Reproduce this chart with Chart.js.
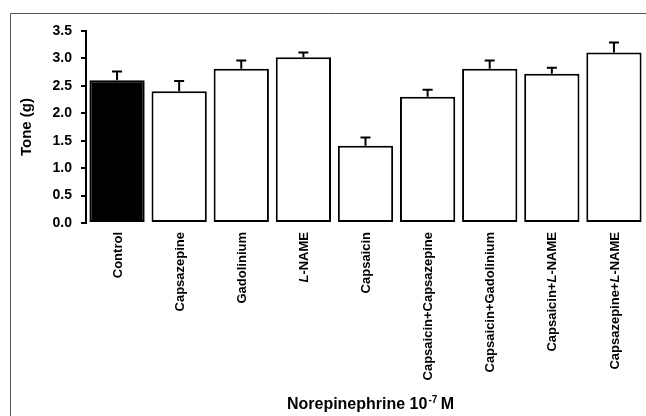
<!DOCTYPE html>
<html>
<head>
<meta charset="utf-8">
<script src="https://cdn.jsdelivr.net/npm/chart.js@4/dist/chart.umd.min.js"></script>
<style>
  html, body { margin: 0; padding: 0; background: #fff; overflow: hidden; }
</style>
</head>
<body>
<canvas id="myChart" width="646" height="416"></canvas>
<script>
var categories = ['Control', 'Capsazepine', 'Gadolinium', 'L-NAME', 'Capsaicin',
  'Capsaicin+Capsazepine', 'Capsaicin+Gadolinium', 'Capsaicin+L-NAME', 'Capsazepine+L-NAME'];
var tone = [2.60, 2.40, 2.81, 3.02, 1.41, 2.30, 2.81, 2.72, 3.11];
var sem = [0.16, 0.19, 0.15, 0.09, 0.15, 0.13, 0.15, 0.11, 0.18];
var yTitle = 'Tone (g)';
var xTitle = ['Norepinephrine 10', '-7', ' M'];

var FONT = '"Liberation Sans", Arial, sans-serif';

// frame line on left and top of the figure
var framePlugin = {
  id: 'frame',
  beforeDraw: function (chart) {
    var c = chart.ctx;
    c.save();
    c.strokeStyle = '#555';
    c.lineWidth = 1;
    c.beginPath();
    c.moveTo(10.5, chart.height);
    c.lineTo(10.5, 13.5);
    c.lineTo(chart.width, 13.5);
    c.stroke();
    c.restore();
  }
};

// error bars (mean + SEM, upper only)
var errorPlugin = {
  id: 'errbars',
  afterDatasetsDraw: function (chart) {
    var c = chart.ctx;
    var y = chart.scales.y;
    var meta = chart.getDatasetMeta(0);
    c.save();
    c.strokeStyle = '#000';
    c.lineWidth = 2;
    meta.data.forEach(function (bar, i) {
      var top = y.getPixelForValue(tone[i] + sem[i]);
      c.beginPath();
      c.moveTo(bar.x, bar.y);
      c.lineTo(bar.x, top);
      c.moveTo(bar.x - 5, top);
      c.lineTo(bar.x + 5, top);
      c.stroke();
    });
    c.restore();
  }
};

// rotated category labels (italic L in L-NAME) and x title with superscript
var labelPlugin = {
  id: 'xlabels',
  afterDraw: function (chart) {
    var c = chart.ctx;
    var x = chart.scales.x;
    c.save();
    c.fillStyle = '#000';
    c.textBaseline = 'middle';
    c.textAlign = 'left';
    categories.forEach(function (lab, i) {
      var parts = lab.split(/(L)(?=-NAME)/).filter(function (s) { return s.length; });
      var segs = parts.map(function (s) {
        var it = (s === 'L');
        c.font = (it ? 'italic ' : '') + 'bold 13px ' + FONT;
        return { t: s, f: c.font, w: c.measureText(s).width };
      });
      var total = segs.reduce(function (a, s) { return a + s.w; }, 0);
      c.save();
      c.translate(x.getPixelForValue(i) + 1, x.top + 9);
      c.rotate(-Math.PI / 2);
      var pos = -total;
      segs.forEach(function (s) {
        c.font = s.f;
        c.fillText(s.t, pos, 0);
        pos += s.w;
      });
      c.restore();
    });

    // x title
    var big = 'bold 16px ' + FONT, small = 'bold 10px ' + FONT;
    c.font = big; var w0 = c.measureText(xTitle[0]).width, w2 = c.measureText(xTitle[2]).width;
    c.font = small; var w1 = c.measureText(xTitle[1]).width;
    var cx = (chart.chartArea.left + chart.chartArea.right) / 2 + 5;
    var sx = cx - (w0 + w1 + w2) / 2;
    var by = 409;
    c.textBaseline = 'alphabetic';
    c.font = big; c.fillText(xTitle[0], sx, by);
    c.font = small; c.fillText(xTitle[1], sx + w0 + 1, by - 6);
    c.font = big; c.fillText(xTitle[2], sx + w0 + w1, by);
    c.restore();
  }
};

var ctx = document.getElementById('myChart').getContext('2d');
var myChart = new Chart(ctx, {
  type: 'bar',
  data: {
    labels: categories,
    datasets: [{
      data: tone,
      backgroundColor: function (c) { return c.dataIndex === 0 ? '#000' : '#fff'; },
      borderColor: '#000',
      borderWidth: 2,
      borderSkipped: false,
      categoryPercentage: 1,
      barPercentage: 0.89
    }]
  },
  plugins: [framePlugin, errorPlugin, labelPlugin],
  options: {
    responsive: false,
    animation: false,
    layout: { padding: { top: 31, right: 1, left: 0, bottom: 0 } },
    plugins: {
      legend: { display: false },
      tooltip: { enabled: false }
    },
    scales: {
      x: {
        type: 'category',
        offset: true,
        grid: { display: false },
        border: { display: false },
        ticks: { display: false },
        afterFit: function (s) { s.height = 193; }
      },
      y: {
        min: 0,
        max: 3.5,
        afterFit: function (s) { s.width = 86; },
        border: { display: true, color: '#000', width: 2 },
        grid: { display: true, drawOnChartArea: false, drawTicks: true, tickLength: 5, color: '#000', lineWidth: 2 },
        ticks: {
          stepSize: 0.5,
          padding: 9,
          color: '#000',
          font: { family: FONT, size: 14, weight: 'bold' },
          callback: function (v) { return Number(v).toFixed(1); }
        },
        title: {
          display: true,
          text: yTitle,
          color: '#000',
          padding: { top: 18, bottom: 0 },
          font: { family: FONT, size: 15, weight: 'bold' }
        }
      }
    }
  }
});
</script>
</body>
</html>
